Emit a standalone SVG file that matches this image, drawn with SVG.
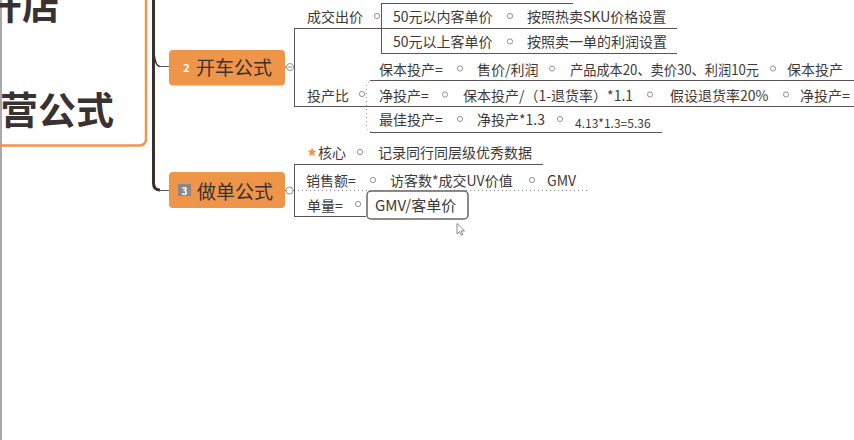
<svg xmlns="http://www.w3.org/2000/svg" width="854" height="440" viewBox="0 0 854 440">
<style>
  text { font-family: "Noto Sans CJK SC", "Noto Sans", sans-serif; fill: #3e3838; }
  .t { font-size: 14px; }
  .big { font-size: 38px; font-weight: bold; fill: #3a3131; }
  .node { font-size: 19px; fill: #3a3131; }
  .ln { stroke: #5a5454; stroke-width: 1; fill: none; }
  .dot { stroke: #8a8585; stroke-width: 1; fill: none; stroke-dasharray: 1 3; }
  .c { fill: #fff; stroke: #8a8585; stroke-width: 0.9; }
  .nodebox { fill: #ef9549; }
</style>
<defs>
  <circle id="sc" r="2.6" class="c"/>
</defs>
<rect width="854" height="440" fill="#ffffff"/>

<g id="main-topic">
  <line x1="1" y1="0" x2="1" y2="440" stroke="#8c8a96" stroke-width="1.5"/>
  <rect x="-30" y="-30" width="176" height="175.5" rx="6" fill="none" stroke="#ef9549" stroke-width="2.5"/>
  <text class="big" x="-16" y="19">开店</text>
  <text class="big" x="0" y="124">营公式</text>
</g>

<g id="connectors">
  <path d="M153.5,0 V183 Q153.5,190 160,190" stroke="#3a2f2f" stroke-width="3" fill="none"/>
  <line x1="159" y1="190.5" x2="170" y2="190.5" class="ln"/>
  <path d="M154,53 Q155.5,66.5 160,66.5" stroke="#3a2f2f" stroke-width="1.5" fill="none"/>
  <line x1="159" y1="66.5" x2="170" y2="66.5" class="ln"/>
  <line x1="285" y1="67" x2="294" y2="67" class="ln"/>
  <line x1="294.5" y1="28" x2="294.5" y2="106" class="ln"/>
  <line x1="294" y1="28.5" x2="677" y2="28.5" class="ln"/>
  <line x1="381.5" y1="3" x2="381.5" y2="53" class="ln"/>
  <line x1="381" y1="3.5" x2="573" y2="3.5" class="ln"/>
  <line x1="381" y1="53.5" x2="677" y2="53.5" class="ln"/>
  <line x1="294" y1="106.5" x2="854" y2="106.5" class="ln"/>
  <line x1="370" y1="80.5" x2="854" y2="80.5" class="ln"/>
  <line x1="370" y1="132.5" x2="662" y2="132.5" class="ln"/>
  <path d="M373,81 Q366.5,81 366.5,87 V126 Q366.5,132 373,132" class="dot"/>
  <line x1="285" y1="190.5" x2="294" y2="190.5" class="ln"/>
  <line x1="294.5" y1="164" x2="294.5" y2="216" class="ln"/>
  <line x1="294" y1="164.5" x2="543" y2="164.5" class="ln"/>
  <line x1="294" y1="216.5" x2="366" y2="216.5" class="ln"/>
  <line x1="298" y1="190.5" x2="590" y2="190.5" class="dot"/>
</g>

<g id="node-kaiche">
  <rect x="169" y="50" width="116" height="35.5" rx="4" class="nodebox"/>
  <text x="186.5" y="71.5" font-size="11" font-weight="bold" text-anchor="middle" style="fill:#fff">2</text>
  <text class="node" x="196" y="74.5">开车公式</text>
  <circle cx="290" cy="67" r="3.5" class="c"/>
  <line x1="288" y1="67" x2="292" y2="67" stroke="#8a8585" stroke-width="0.9"/>
</g>

<g id="node-chengjiao">
  <text class="t" x="307" y="21.5">成交出价</text>
  <use href="#sc" x="377" y="16"/>
  <text class="t" x="393" y="22">50元以内客单价</text>
  <use href="#sc" x="510" y="16"/>
  <text class="t" x="527" y="22">按照热卖SKU价格设置</text>
  <text class="t" x="393" y="47">50元以上客单价</text>
  <use href="#sc" x="510" y="41.5"/>
  <text class="t" x="527" y="47">按照卖一单的利润设置</text>
</g>

<g id="node-touchanbi">
  <text class="t" x="307" y="100.5">投产比</text>
  <use href="#sc" x="362" y="94"/>
  <text class="t" x="379" y="74.5">保本投产=</text>
  <use href="#sc" x="460" y="68.5"/>
  <text class="t" x="477" y="74.5">售价/利润</text>
  <use href="#sc" x="552" y="68.5"/>
  <text class="t" x="570" y="74.5" textLength="189" lengthAdjust="spacingAndGlyphs">产品成本20、卖价30、利润10元</text>
  <use href="#sc" x="773" y="68.5"/>
  <text class="t" x="787" y="74.5">保本投产</text>
  <text class="t" x="379" y="100.5">净投产=</text>
  <use href="#sc" x="445" y="94.5"/>
  <text class="t" x="463" y="100.5">保本投产/（1-退货率）*1.1</text>
  <use href="#sc" x="650" y="94.5"/>
  <text class="t" x="670" y="100.5">假设退货率20%</text>
  <use href="#sc" x="786" y="94.5"/>
  <text class="t" x="800" y="100.5">净投产=</text>
  <text class="t" x="379" y="125">最佳投产=</text>
  <use href="#sc" x="460" y="119"/>
  <text class="t" x="477" y="125">净投产*1.3</text>
  <use href="#sc" x="560" y="119"/>
  <text x="575" y="127.5" font-size="12">4.13*1.3=5.36</text>
</g>

<g id="node-zuodan">
  <rect x="169" y="172" width="116" height="36" rx="4" class="nodebox"/>
  <rect x="178" y="184" width="13" height="12" fill="#8a8888"/>
  <text x="184.5" y="194.5" font-size="10" font-weight="bold" text-anchor="middle" style="fill:#fff">3</text>
  <text class="node" x="197" y="198.5">做单公式</text>
  <circle cx="289.5" cy="190.5" r="3.5" class="c"/>
</g>

<g id="node-hexin">
  <path d="M312,147.5 L313.3,150.6 L316.5,150.8 L314,152.9 L314.9,156.2 L312,154.4 L309.1,156.2 L310,152.9 L307.5,150.8 L310.7,150.6 Z" fill="#ef9549"/>
  <text class="t" x="318" y="158">核心</text>
  <use href="#sc" x="360" y="152"/>
  <text class="t" x="378" y="158">记录同行同层级优秀数据</text>
</g>

<g id="node-xiaoshou">
  <text class="t" x="306" y="185.5">销售额=</text>
  <use href="#sc" x="373" y="180"/>
  <text class="t" x="390" y="185.5">访客数*成交UV价值</text>
  <use href="#sc" x="532" y="180"/>
  <text class="t" x="547" y="185.5">GMV</text>
</g>

<g id="node-danliang">
  <text class="t" x="307" y="210.5">单量=</text>
  <use href="#sc" x="358" y="204"/>
  <rect x="367" y="191" width="101" height="28" rx="4" fill="#fff" stroke="#6a6464" stroke-width="1.5"/>
  <text x="375" y="211" font-size="15">GMV/客单价</text>
</g>

<g id="cursor">
  <path d="M457,223.5 L457,234 L459.5,231.5 L461.2,235.3 L462.8,234.6 L461.1,230.9 L464.5,230.9 Z" fill="#fff" stroke="#6a6a6a" stroke-width="0.8"/>
</g>
</svg>
